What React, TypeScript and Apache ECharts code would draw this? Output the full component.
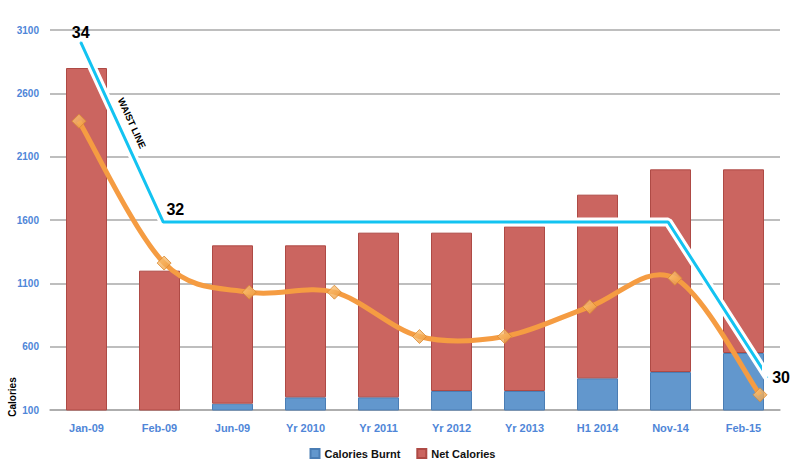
import React, { useEffect, useRef } from 'react';
import * as echarts from 'echarts';

const categories = ['Jan-09', 'Feb-09', 'Jun-09', 'Yr 2010', 'Yr 2011', 'Yr 2012', 'Yr 2013', 'H1 2014', 'Nov-14', 'Feb-15'];
const caloriesBurnt = [0, 0, 150, 200, 200, 250, 250, 350, 400, 550];
const netCalories = [2800, 1200, 1250, 1200, 1300, 1250, 1300, 1450, 1600, 1450];
// trend line (9 points, evenly spaced on its own axis)
const trendValues = [2380, 1260, 1030, 1030, 680, 680, 915, 1140, 220];
const yTickValues = [100, 600, 1100, 1600, 2100, 2600, 3100];
// waist line annotation (x on trend axis, y in calorie units)
const waistX = [0.02, 0.99, 6.92, 8.09];
const waistY = [3005, 1584, 1584, 360];
const waistLabels = ['34', '32', '', '30'];

const FONT = 'Liberation Sans, Arial, sans-serif';
const AXIS_BLUE = '#4F86D8';
const GRID_GRAY = '#A9A9A9';

export default function App() {
  const ref = useRef<HTMLDivElement>(null);
  useEffect(() => {
    document.body.style.margin = '0';
    const chart = echarts.init(ref.current!, null, { renderer: 'svg' });
    const yMin = yTickValues[0];
    const yMax = yTickValues[yTickValues.length - 1];
    const yInt = yTickValues[1] - yTickValues[0];

    const labelCfg: any[] = [
      { show: true, position: 'top', distance: 1 },
      { show: true, position: 'top', distance: 4, offset: [12, 0] },
      { show: false },
      { show: true, position: 'right', distance: 4 },
    ];

    const waistData = waistX.map((x, i) => ({
      value: [x, waistY[i]],
      label: { ...labelCfg[i], formatter: waistLabels[i] },
    }));

    const trendData = trendValues.map((v, i) => [i, v]);

    const renderTrend = (params: any, api: any) => {
      if (params.dataIndex !== 0) return null;
      const pts = trendData.map((d) => api.coord(d));
      const n = pts.length;
      let d = `M${pts[0][0]},${pts[0][1]}`;
      for (let i = 0; i < n - 1; i++) {
        const p0 = pts[i - 1] || pts[i];
        const p1 = pts[i];
        const p2 = pts[i + 1];
        const p3 = pts[i + 2] || pts[i + 1];
        const c1x = p1[0] + (p2[0] - p0[0]) / 6;
        const c1y = p1[1] + (p2[1] - p0[1]) / 6;
        const c2x = p2[0] - (p3[0] - p1[0]) / 6;
        const c2y = p2[1] - (p3[1] - p1[1]) / 6;
        d += ` C${c1x},${c1y} ${c2x},${c2y} ${p2[0]},${p2[1]}`;
      }
      return {
        type: 'path',
        shape: { pathData: d },
        style: { fill: 'none', stroke: '#F59C42', lineWidth: 5 },
      };
    };

    chart.setOption({
      animation: false,
      textStyle: { fontFamily: FONT },
      grid: [
        { left: 50, right: 25, top: 30, bottom: 55 },
        { left: 79, right: 45, top: 30, bottom: 55 },
      ],
      legend: {
        data: ['Calories Burnt', 'Net Calories'],
        left: 'center',
        top: 443,
        icon: 'rect',
        itemWidth: 9,
        itemHeight: 9,
        itemGap: 16,
        textStyle: { fontFamily: FONT, fontWeight: 'bold', fontSize: 11, color: '#111' },
      },
      xAxis: [
        {
          type: 'category',
          gridIndex: 0,
          data: categories,
          axisLine: { lineStyle: { color: GRID_GRAY, width: 1.5 } },
          axisTick: { show: false },
          axisLabel: { color: AXIS_BLUE, fontWeight: 'bold', fontSize: 11, margin: 12, fontFamily: FONT },
        },
        { type: 'value', gridIndex: 1, min: 0, max: 8, show: false },
      ],
      yAxis: [
        {
          type: 'value',
          gridIndex: 0,
          min: yMin,
          max: yMax,
          interval: yInt,
          axisLine: { show: false },
          axisTick: { show: false },
          splitLine: { lineStyle: { color: GRID_GRAY, width: 1.5 } },
          axisLabel: {
            color: AXIS_BLUE,
            fontWeight: 'bold',
            fontSize: 10,
            margin: 11,
            fontFamily: FONT,
            formatter: (v: number) => String(v),
          },
        },
        { type: 'value', gridIndex: 1, min: yMin, max: yMax, show: false },
      ],
      graphic: [
        {
          type: 'text',
          x: 12.5,
          y: 397,
          rotation: Math.PI / 2,
          style: {
            text: 'Calories',
            fontFamily: FONT,
            fontWeight: 'bold',
            fontSize: 10,
            fill: '#000',
            align: 'center',
            verticalAlign: 'middle',
          },
        },
        {
          type: 'text',
          x: 132,
          y: 123,
          rotation: -65.5 * Math.PI / 180,
          z: 100,
          style: {
            text: 'WAIST LINE',
            fontFamily: FONT,
            fontWeight: 'bold',
            fontSize: 9.5,
            fill: '#000',
            align: 'center',
            verticalAlign: 'middle',
          },
        },
      ],
      series: [
        {
          name: 'Calories Burnt',
          type: 'bar',
          stack: 'cal',
          xAxisIndex: 0,
          yAxisIndex: 0,
          barWidth: 41,
          data: caloriesBurnt,
          itemStyle: { color: '#6297CD', borderColor: '#4A7DB4', borderWidth: 1 },
          silent: true,
        },
        {
          name: 'Net Calories',
          type: 'bar',
          stack: 'cal',
          xAxisIndex: 0,
          yAxisIndex: 0,
          barWidth: 41,
          data: netCalories,
          itemStyle: { color: '#CB6560', borderColor: '#AE4A45', borderWidth: 1 },
          silent: true,
        },
        {
          name: 'waistHalo',
          type: 'line',
          xAxisIndex: 1,
          yAxisIndex: 1,
          data: waistX.map((x, i) => [x, waistY[i]]),
          symbol: 'none',
          clip: false,
          lineStyle: { color: '#FFFFFF', width: 9 },
          silent: true,
          z: 3,
        },
        {
          name: 'waist',
          type: 'line',
          xAxisIndex: 1,
          yAxisIndex: 1,
          data: waistData,
          symbol: 'circle',
          symbolSize: 1,
          clip: false,
          itemStyle: { color: '#13C3F1' },
          lineStyle: { color: '#13C3F1', width: 3 },
          label: { fontFamily: FONT, fontWeight: 'bold', fontSize: 16, color: '#000' },
          silent: true,
          z: 4,
        },
        {
          name: 'trend',
          type: 'custom',
          xAxisIndex: 1,
          yAxisIndex: 1,
          data: trendData,
          encode: { x: 0, y: 1 },
          renderItem: renderTrend,
          clip: false,
          silent: true,
          z: 5,
        },
        {
          name: 'trendMarkers',
          type: 'scatter',
          xAxisIndex: 1,
          yAxisIndex: 1,
          data: trendData,
          symbol: 'diamond',
          symbolSize: 14,
          itemStyle: {
            color: new echarts.graphic.LinearGradient(0, 0, 1, 1, [
              { offset: 0, color: '#FCCB85' },
              { offset: 1, color: '#EE9838' },
            ]),
            borderColor: '#D98A32',
            borderWidth: 1,
          },
          silent: true,
          z: 6,
        },
      ],
    });
    return () => chart.dispose();
  }, []);
  return <div ref={ref} style={{ width: 805, height: 465 }} />;
}
